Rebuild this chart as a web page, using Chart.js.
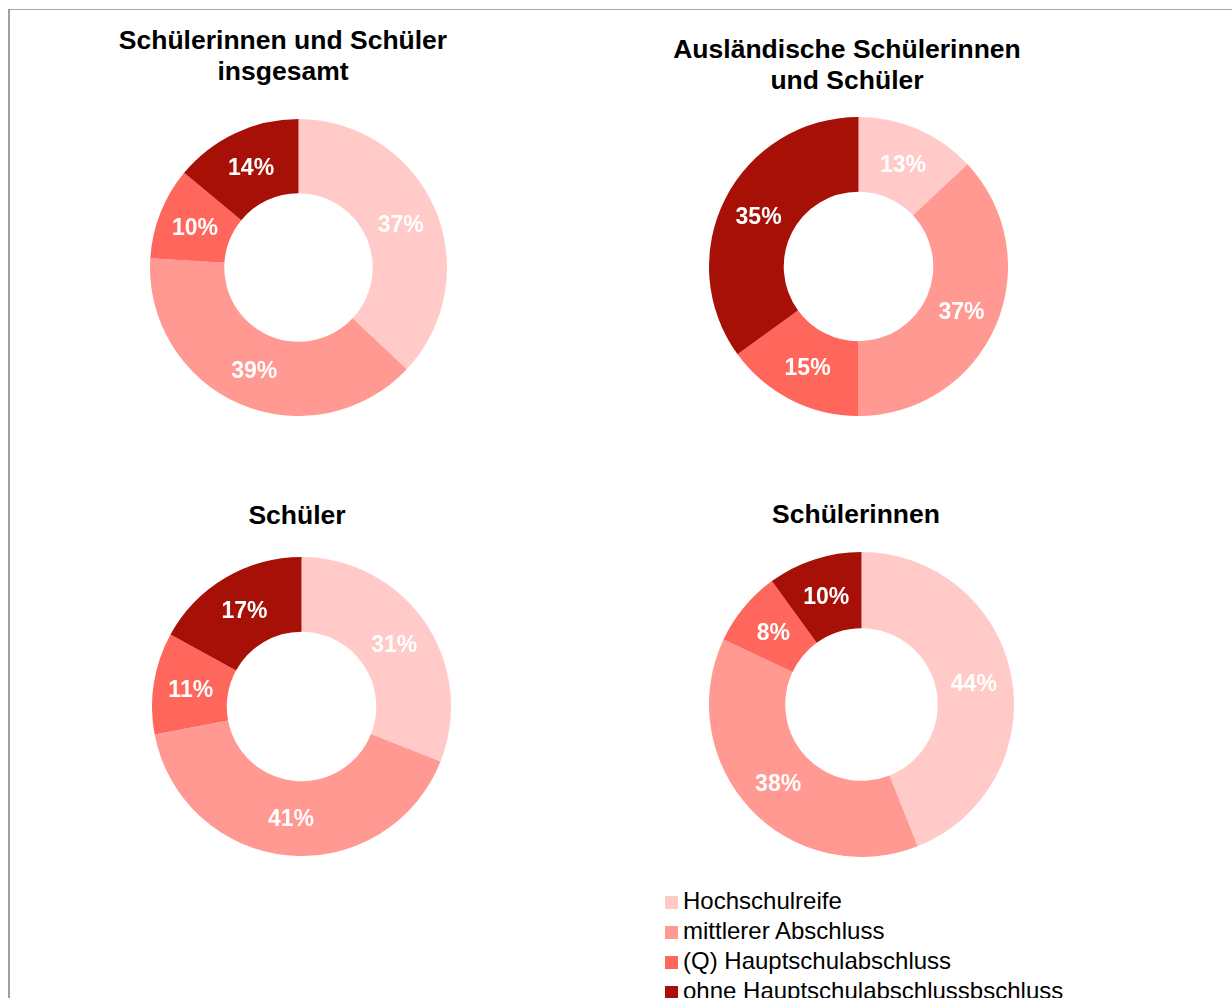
<!DOCTYPE html>
<html>
<head>
<meta charset="utf-8">
<script src="https://cdn.jsdelivr.net/npm/chart.js@4/dist/chart.umd.min.js"></script>
<style>
  body { margin: 0; background: #fff; width: 1232px; height: 998px; position: relative; overflow: hidden;
         font-family: "Liberation Sans", Arial, sans-serif; }
  .frameTop { position: absolute; left: 8px; top: 9px; width: 1224px; height: 1px; background: #a8a8a8; }
  .frameLeft { position: absolute; left: 8px; top: 9px; width: 2px; height: 989px; background: #a0a0a0; }
  .title { position: absolute; width: 500px; text-align: center; font-weight: bold; font-size: 26.5px;
           line-height: 31px; color: #000; }
  .pie { position: absolute; }
  #legend { position: absolute; left: 665px; top: 886px; font-size: 24px; color: #000; }
  #legend div { height: 30px; line-height: 30px; white-space: nowrap; }
  #legend span { display: inline-block; width: 13px; height: 13px; margin-right: 5px; vertical-align: 0px; }
</style>
</head>
<body>
<div class="frameTop"></div>
<div class="frameLeft"></div>

<div class="title" style="left:33px; top:25px;">Schülerinnen und Schüler<br>insgesamt</div>
<div class="title" style="left:597px; top:34px;">Ausländische Schülerinnen<br>und Schüler</div>
<div class="title" style="left:47px; top:500px;">Schüler</div>
<div class="title" style="left:606px; top:499px;">Schülerinnen</div>

<div class="pie" style="left:150px; top:119px; width:297px; height:297px;"><canvas id="pieTotal"></canvas></div>
<div class="pie" style="left:709px; top:117px; width:299px; height:299px;"><canvas id="pieForeign"></canvas></div>
<div class="pie" style="left:152px; top:557px; width:299px; height:299px;"><canvas id="pieBoys"></canvas></div>
<div class="pie" style="left:709px; top:552px; width:305px; height:305px;"><canvas id="pieGirls"></canvas></div>

<div id="legend"></div>

<script>
const categories = ['Hochschulreife', 'mittlerer Abschluss', '(Q) Hauptschulabschluss', 'ohne Hauptschulabschlussbschluss'];
const colours = ['#ffcac8', '#ff9991', '#ff665c', '#a61006'];

const totalValues = [37, 39, 10, 14];
const foreignValues = [13, 37, 15, 35];
const boysValues = [31, 41, 11, 17];
const girlsValues = [44, 38, 8, 10];

// percentage labels in the middle of each ring segment
const sliceLabels = {
  id: 'sliceLabels',
  afterDatasetsDraw(chart) {
    const ctx = chart.ctx;
    const ds = chart.data.datasets[0];
    ctx.save();
    ctx.font = 'bold 23px "Liberation Sans", Arial, sans-serif';
    ctx.fillStyle = '#ffffff';
    ctx.textAlign = 'center';
    ctx.textBaseline = 'middle';
    chart.getDatasetMeta(0).data.forEach((arc, i) => {
      const pos = arc.tooltipPosition();
      ctx.fillText(ds.data[i] + '%', pos.x, pos.y + 2);
    });
    ctx.restore();
  }
};

function makePie(id, values) {
  const ctx = document.getElementById(id).getContext('2d');
  return new Chart(ctx, {
    type: 'doughnut',
    data: {
      labels: categories,
      datasets: [{
        data: values,
        backgroundColor: colours,
        borderWidth: 0
      }]
    },
    options: {
      responsive: true,
      maintainAspectRatio: false,
      animation: false,
      cutout: '50%',
      layout: { padding: 0 },
      plugins: {
        legend: { display: false },
        title: { display: false },
        tooltip: { enabled: false }
      }
    },
    plugins: [sliceLabels]
  });
}

makePie('pieTotal', totalValues);
makePie('pieForeign', foreignValues);
makePie('pieBoys', boysValues);
makePie('pieGirls', girlsValues);

const legend = document.getElementById('legend');
categories.forEach((name, i) => {
  const row = document.createElement('div');
  const box = document.createElement('span');
  box.style.background = colours[i];
  row.appendChild(box);
  row.appendChild(document.createTextNode(name));
  legend.appendChild(row);
});
</script>
</body>
</html>
